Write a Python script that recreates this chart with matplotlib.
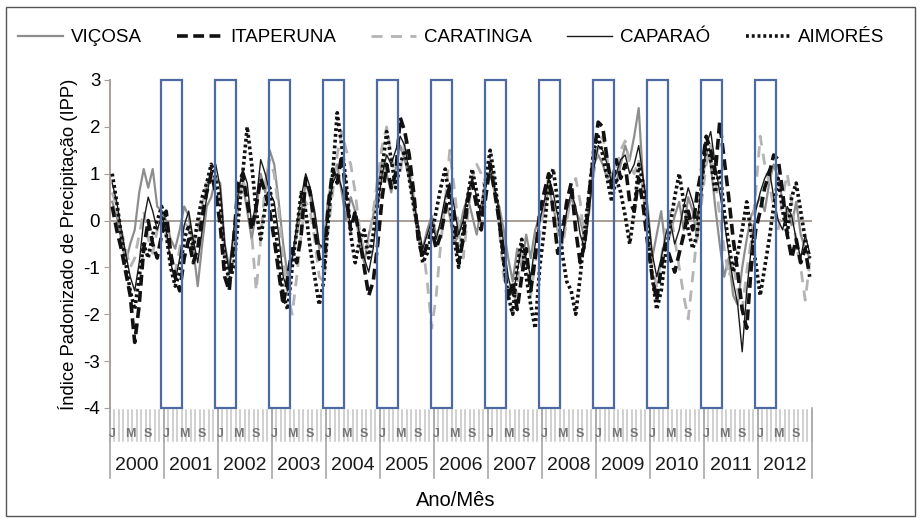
import numpy as np
import matplotlib
matplotlib.use('Agg')
import matplotlib.pyplot as plt
import matplotlib.transforms as mtransforms
from matplotlib.patches import Rectangle
from matplotlib.lines import Line2D

plt.rcParams['font.family'] = ['Liberation Sans', 'DejaVu Sans']
plt.rcParams['axes.unicode_minus'] = False

# ── DATA: monthly IPP values, Jan 2000 .. Dec 2012 ───────────────
years = list(range(2000, 2013))
month_letters = ['J', '', '', '', 'M', '', '', '', 'S', '', '', '']

vicosa = [
    0.4, 0.1, -0.4, -0.9, -0.5, -0.2, 0.6, 1.1, 0.7, 1.1, 0.3, 0.2,
    0.0, -0.4, -0.6, -0.2, 0.3, 0.1, -0.6, -1.4, -0.5, 0.3, 0.5, 0.9,
    0.8, -0.5, -1.0, -0.3, 0.5, 0.8, 0.2, -0.4, 0.2, 1.0, 0.6, 1.5,
    1.2, 0.4, -0.5, -1.2, -0.8, -0.3, 0.2, 0.8, 0.5, 0.1, -0.6, -0.5,
    0.5, 0.9, 1.2, 0.6, 0.0, 0.5, 0.2, -0.5, -0.9, -0.3, 0.1, 0.7,
    1.3, 1.0, 0.6, 1.1, 1.6, 1.3, 0.9, 0.3, -0.4, -0.6, -0.2, 0.1,
    -0.3, -0.1, 0.4, 0.1, -0.5, -0.3, 0.2, 0.5, 0.1, -0.3, 0.3, 0.9,
    1.0, 0.6, 0.3, -0.2, -0.8, -1.3, -0.6, -1.0, -0.3, -0.8, -0.2, 0.1,
    0.2, 0.7, 0.3, -0.2, -0.5, 0.1, 0.5, 0.2, 0.0, -0.4, 0.3, 1.2,
    1.4, 1.2, 0.9, 1.0, 0.8, 1.2, 1.6, 1.3, 1.8, 2.4, 0.8, 0.3,
    -0.8, -0.3, 0.2, -0.6, -0.3, 0.1, 0.4, -0.2, 0.5, 0.2, -0.4, 0.6,
    1.5, 1.2, 0.3, -0.5, -1.2, -0.8, -1.6, -1.8, -1.0, -0.4, 0.1, 0.3,
    0.5, 0.2, 0.8, 1.2, 0.9, 0.4, 0.2, -0.1, 0.4, -0.3, -0.6, -0.8,
]

itaperuna = [
    0.3, -0.2, -0.6, -1.1, -1.6, -2.6, -1.8, -0.6, 0.0, -0.5, -0.8, -0.3,
    0.2, -0.7, -1.2, -1.5, -0.8, -0.4, -0.9, -0.6, 0.1, 0.6, 1.0, 0.6,
    -0.1, -1.2, -1.5, -0.4, 0.8, 1.0, 0.4, -0.2, 0.3, 0.9, 0.6, 0.2,
    -0.4, -1.1, -1.8, -1.2, -0.6, -0.9, -0.3, 0.9, 0.6, -0.2, -0.8, -1.0,
    0.3, 1.1, 0.8, 1.4, 0.5, -0.2, 0.2, -0.4, -1.0, -1.6, -1.3, -0.5,
    0.5, 1.2, 0.7, 1.0, 2.2, 1.9, 1.4, 0.6, -0.4, -0.8, -0.5, -0.2,
    -0.6, -0.3, 0.2, 0.7, 0.1, -0.9, -0.4, 0.4, 0.8, 0.3, -0.2, 0.5,
    1.2, 0.6, 0.0, -0.8, -1.7, -1.3, -1.9, -1.2, -0.6, -1.5, -0.8, 0.2,
    0.6, 1.0, 0.2, -0.7, -0.3, 0.4, 0.8, -0.2, -0.9, -0.5, 0.6, 1.4,
    2.1, 2.0, 1.3, 0.7, 1.3, 0.9, 1.2, 0.4, 0.2, 0.9, 0.3, -0.5,
    -1.2, -1.7, -1.0, -0.5, -0.8, -1.1, -0.7, -0.3, 0.2, -0.2, 0.6, 1.1,
    1.8, 1.5, 1.0, 2.1, 1.3, 0.5, -0.4, -1.1, -1.9, -2.3, -1.0, -0.2,
    0.2, 0.7, 1.0, 1.4, 1.3, 0.6, -0.3, -0.8, -0.4, -0.9, -0.6, -1.2,
]

caratinga = [
    0.6, 0.3, -0.2, -0.6, -1.0, -0.8, -0.3, 0.2, -0.4, -0.7, -0.2, 0.1,
    -0.3, -0.8, -1.1, -0.6, 0.0, -0.2, -0.5, -0.2, 0.3, 0.8, 1.0, 0.7,
    0.4, -0.6, -1.3, -0.8, 0.3, 0.9, 0.5, -0.3, -1.5, -0.4, 0.8, 1.3,
    1.0, 0.2, -0.8, -1.6, -2.0, -1.2, -0.3, 0.4, 0.2, -0.4, -1.2, -1.3,
    -0.2, 0.6, 1.4, 1.9, 1.5, 1.2, 0.6, -0.2, -0.7, -0.4, 0.2, 0.9,
    1.6, 2.0, 1.4, 0.8, 1.0, 1.7, 1.2, 0.5, -0.3, -0.5, -1.3, -2.3,
    -1.6, -0.5, 0.4, 1.5, 0.7, -0.2, -0.8, 0.1, 0.9, 1.2, 1.0, 0.6,
    1.3, 0.8, -0.2, -1.2, -1.8, -2.0, -1.4, -0.6, -0.9, -1.6, -0.9, -0.3,
    0.3, 1.0, 0.5, -0.2, -0.6, 0.0, 0.5, 0.9, 0.4, -0.5, 0.2, 1.0,
    1.6, 1.8, 1.3, 0.9, 1.1, 1.5, 1.7, 1.2, 1.0, 1.3, 0.6, -0.3,
    -1.0, -1.4, -0.8, -0.2, 0.2, -0.4, -1.0, -1.6, -2.1, -1.2, -0.3, 0.4,
    1.2, 1.6, 0.9, 0.1, -0.6, -1.2, -0.9, -1.5, -1.9, -1.1, -0.4, 0.6,
    1.8, 1.2, 0.8, 0.3, -0.2, 0.5, 1.0, 0.4, -0.5, -1.0, -1.7, -0.9,
]

caparao = [
    0.8, 0.4, -0.2, -0.7, -1.2, -1.5, -0.9, 0.0, 0.5, 0.2, -0.2, 0.1,
    -0.2, -0.9, -1.3, -0.8, -0.1, 0.2, -0.4, -0.9, -0.2, 0.5, 1.1, 1.2,
    0.7, -0.5, -1.1, -0.2, 0.6, 1.1, 0.8, -0.1, 0.4, 1.3, 1.0, 0.6,
    0.4, -0.3, -1.2, -1.5, -0.8, -0.1, 0.5, 1.0, 0.7, 0.2, -0.5, -0.6,
    0.2, 0.8, 1.0, 0.7, 0.3, -0.1, 0.2, -0.3, -0.8, -1.1, -0.6, 0.3,
    1.0, 1.4, 1.2, 1.5, 1.8, 1.6, 1.0, 0.4, -0.1, -0.6, -0.3, 0.0,
    -0.4, 0.0, 0.5, 0.8, 0.3, -0.3, 0.0, 0.6, 0.9, 0.5, 0.1, 0.7,
    1.1, 0.7, 0.2, -0.5, -1.2, -1.6, -1.1, -0.5, -0.8, -1.2, -0.5, 0.0,
    0.4, 0.9, 0.6, 0.1, -0.4, 0.2, 0.6, 0.3, -0.3, -0.6, 0.2, 1.1,
    1.6, 1.5, 1.2, 0.8, 1.0, 1.3, 1.4, 1.0, 1.2, 1.6, 0.9, 0.2,
    -0.7, -1.2, -0.8, -0.3, 0.0, -0.5, -0.2, 0.3, 0.7, 0.4, 0.0, 0.8,
    1.6, 1.9, 1.2, 0.6, 0.0, -0.7, -1.3, -1.8, -2.8, -1.5, -0.6, 0.2,
    0.6, 0.9, 1.1, 0.5, 0.0, -0.2, 0.3, 0.1, -0.4, -0.8, -0.3, -0.7,
]

aimores = [
    1.0, 0.4, -0.3, -0.9, -1.5, -1.9, -1.2, -0.5, -0.8, -0.3, 0.0, 0.3,
    -0.3, -1.0, -1.4, -1.1, -0.4, -0.1, -0.6, 0.0, 0.5, 0.8, 1.2, 0.9,
    0.4, -0.8, -1.3, -1.0, 0.0, 1.0, 2.0, 1.2, 0.2, -0.4, 0.3, 0.7,
    0.1, -0.8, -1.6, -1.9, -1.0, -0.2, 0.6, 0.2, -0.6, -1.2, -1.8, -1.3,
    0.0, 1.0, 2.3, 1.6, 0.8, -0.3, -0.9, -0.4, -0.2, -0.8, -0.3, 0.4,
    1.1, 1.9, 1.3, 0.7, 1.2, 1.5, 0.9, 0.3, -0.2, -0.9, -0.7, -0.3,
    0.2, 0.7, 1.1, 0.4, -0.4, -1.0, -0.2, 0.5, 1.1, 0.6, 0.1, 0.9,
    1.5, 0.9, 0.0, -0.9, -1.6, -2.0, -1.0, -0.4, -1.2, -1.8, -2.3, -1.0,
    -0.2, 0.8, 1.1, 0.4, -0.7, -1.3, -1.5, -2.0, -1.2, -0.2, 0.6, 1.5,
    1.8, 1.4, 0.9, 0.4, 0.9, 0.6, 0.1, -0.5, 0.2, 1.2, 0.8, -0.2,
    -1.2, -1.9, -1.5, -0.7, -0.1, 0.5, 1.0, 0.4, -0.2, -0.6, -0.3, 0.8,
    1.7, 1.3, 0.6, 1.1, 0.2, -0.5, -1.1, -0.7, -0.2, 0.4, -0.3, -0.9,
    -1.6, -1.0, -0.4, 0.3, 0.9, 0.2, -0.3, 0.5, 0.8, 0.2, -0.4, -0.8,
]

# highlighted rainy seasons (one box per year, Dec..Apr)
box_years = list(range(2001, 2013))

# ── FIGURE ───────────────────────────────────────────────────────
fig = plt.figure(figsize=(9.21, 5.18), dpi=100)
ax = fig.add_axes([0.1194, 0.2124, 0.7622, 0.6332])

x = np.arange(len(vicosa))
ax.plot(x, vicosa, color='#8e8e8e', lw=1.6, zorder=3)
ax.plot(x, caratinga, color='#b4b4b4', lw=2.0, dashes=(4, 3), zorder=3)
ax.plot(x, caparao, color='#1a1a1a', lw=1.0, zorder=4)
ax.plot(x, itaperuna, color='#111111', lw=2.6, dashes=(3, 1.5), zorder=4)
ax.plot(x, aimores, color='#111111', lw=2.6, dashes=(0.8, 0.8), zorder=4)

# rainy-season boxes
for yr in box_years:
    start = (yr - 2000) * 12 - 0.5 - 0.7
    ax.add_patch(Rectangle((start, -4), 4.7, 7, fill=False,
                           edgecolor='#4d6aa3', lw=1.6, zorder=6, clip_on=False))

ax.axhline(0, color='#a89f98', lw=1.4, zorder=2)

ax.set_xlim(-0.5, len(vicosa) - 0.5)
ax.set_ylim(-4, 3)
ax.set_yticks(range(-4, 4))
ax.set_xticks([])
ax.tick_params(axis='y', labelsize=13.5, length=4, color='#a89f98', pad=3)
for side in ['top', 'right', 'bottom']:
    ax.spines[side].set_visible(False)
ax.spines['left'].set_color('#a89f98')
ax.spines['left'].set_linewidth(1.4)

# ── category axis drawn by hand (month ticks + year groups) ─────
trans = mtransforms.blended_transform_factory(ax.transData, ax.transAxes)
for i in range(len(vicosa) + 1):
    ax.plot([i - 0.5, i - 0.5], [-0.005, -0.1], color='#c4c4c4', lw=1.1,
            transform=trans, clip_on=False)
for k, yr in enumerate(years):
    for m, letter in enumerate(month_letters):
        if letter:
            ax.text(k * 12 + m, -0.078, letter, transform=trans, ha='center',
                    va='center', fontsize=9, color='#777777', fontweight='bold')
    ax.text(k * 12 + 5.5, -0.176, str(yr), transform=trans, ha='center',
            va='center', fontsize=14, color='#1a1a1a')
for k in range(len(years) + 1):
    ax.plot([k * 12 - 0.5] * 2, [0, -0.213], color='#a8a8a8', lw=1.2,
            transform=trans, clip_on=False)

ax.set_ylabel('Índice Padonizado de Precipitação (IPP)', fontsize=13.3, labelpad=4)
fig.text(0.495, 0.033, 'Ano/Mês', ha='center', va='center', fontsize=14.5)

# legend
handles = [
    Line2D([], [], color='#8e8e8e', lw=1.6),
    Line2D([], [], color='#111111', lw=2.6, dashes=(3, 1.5)),
    Line2D([], [], color='#b4b4b4', lw=2.0, dashes=(4, 3)),
    Line2D([], [], color='#1a1a1a', lw=1.0),
    Line2D([], [], color='#111111', lw=2.6, dashes=(0.8, 0.8)),
]
labels = ['VIÇOSA', 'ITAPERUNA', 'CARATINGA', 'CAPARAÓ', 'AIMORÉS']
fig.legend(handles, labels, loc='center', bbox_to_anchor=(0.49, 0.927), ncol=5,
           frameon=False, fontsize=13.5, handlelength=2.4, handletextpad=0.4,
           columnspacing=1.9)

# outer frame
fig.patches.append(Rectangle((0.007, 0.004), 0.986, 0.982, transform=fig.transFigure,
                             fill=False, edgecolor='#555555', lw=1.0))

plt.savefig('out.png', dpi=100)
